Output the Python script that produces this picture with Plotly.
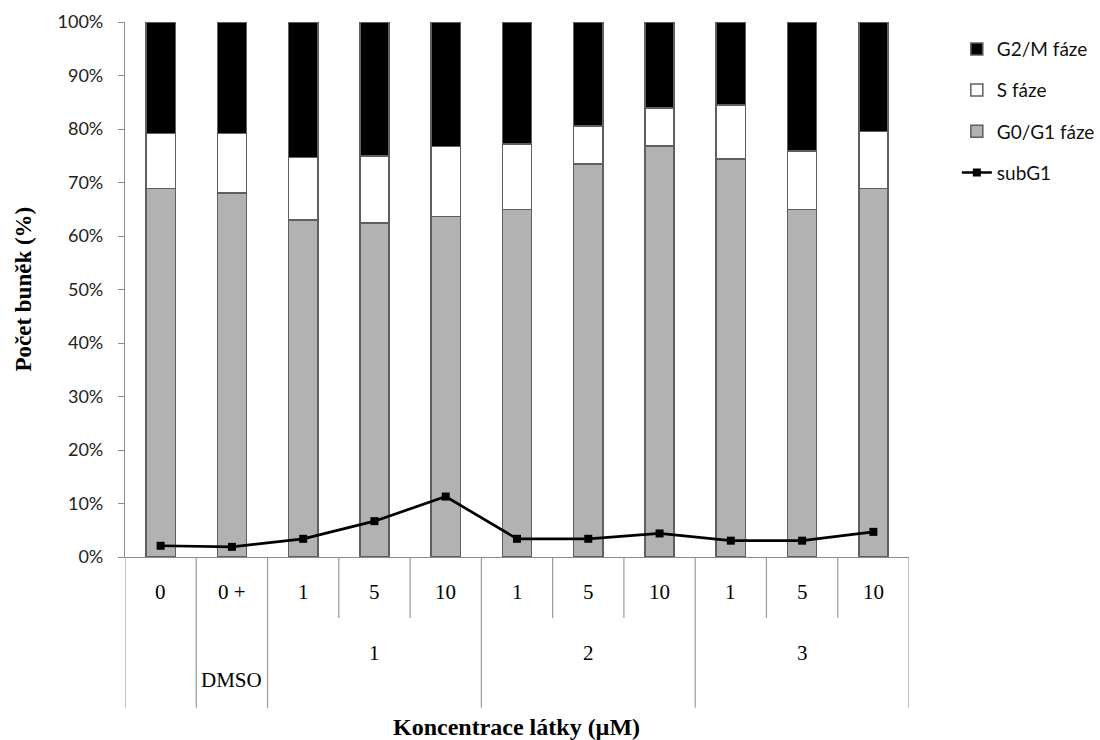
import numpy as np
import plotly.graph_objects as go

# ---- data ----
concentrations = ["0", "0 +", "1", "5", "10", "1", "5", "10", "1", "5", "10"]
groups = ["", "DMSO", "1", "1", "1", "2", "2", "2", "3", "3", "3"]
g0g1 = [68.9, 68.0, 63.0, 62.4, 63.6, 65.0, 73.5, 76.8, 74.4, 65.0, 68.9]
s_phase = [10.3, 11.2, 11.7, 12.6, 13.1, 12.2, 7.1, 7.1, 10.1, 10.9, 10.6]
g2m = [20.8, 20.8, 25.3, 25.0, 23.3, 22.8, 19.4, 16.1, 15.5, 24.1, 20.5]
subg1 = [2.1, 1.9, 3.4, 6.7, 11.3, 3.4, 3.4, 4.4, 3.05, 3.05, 4.7]
y_ticks = [0, 10, 20, 30, 40, 50, 60, 70, 80, 90, 100]

x = np.arange(len(concentrations))

edge = dict(color="#5f5f5f", width=1.5)
fig = go.Figure()
fig.add_trace(go.Bar(x=x, y=g0g1, name="G0/G1 fáze", marker=dict(color="#b2b2b2", line=edge),
                     width=0.41, legendrank=3, legendgroup="c"))
fig.add_trace(go.Bar(x=x, y=s_phase, name="S fáze", marker=dict(color="#ffffff", line=edge),
                     width=0.41, legendrank=2, legendgroup="b"))
fig.add_trace(go.Bar(x=x, y=g2m, name="G2/M fáze", marker=dict(color="#000000", line=edge),
                     width=0.41, legendrank=1, legendgroup="a"))
fig.add_trace(go.Scatter(x=x, y=subg1, name="subG1", mode="lines+markers",
                         line=dict(color="#000000", width=2.7),
                         marker=dict(symbol="square", size=8, color="#000000"),
                         legendrank=4, legendgroup="d"))

# ---- category table below the axis ----
grid_col = "#9a9a9a"
inner_bottom = -0.114
outer_bottom = -0.282
shapes = []
n = len(concentrations)
for b in range(-1, n):
    pos = b + 0.5
    is_group_edge = b == -1 or b == n - 1 or groups[b] != groups[b + 1]
    shapes.append(dict(type="line", xref="x", yref="paper", x0=pos, x1=pos,
                       y0=0, y1=outer_bottom if is_group_edge else inner_bottom,
                       line=dict(color=grid_col, width=1.2)))

serif = "Liberation Serif, Times New Roman, serif"
lab_font = dict(family=serif, size=21, color="#000")
annotations = []
for i, c in enumerate(concentrations):
    annotations.append(dict(x=i, y=-0.065, xref="x", yref="paper", text=c, showarrow=False,
                            xanchor="center", yanchor="middle", font=lab_font))
seen = []
for g in groups:
    if g and g not in seen:
        seen.append(g)
for g in seen:
    idx = [i for i, gg in enumerate(groups) if gg == g]
    yy = -0.230 if g == "DMSO" else -0.179
    annotations.append(dict(x=float(np.mean(idx)), y=yy, xref="x", yref="paper", text=g,
                            showarrow=False, xanchor="center", yanchor="middle", font=lab_font))

annotations.append(dict(x=0.499, y=-0.318, xref="paper", yref="paper", text="<b>Koncentrace látky (µM)</b>",
                        showarrow=False, xanchor="center", yanchor="middle",
                        font=dict(family=serif, size=24, color="#000")))
annotations.append(dict(x=-0.130, y=0.5, xref="paper", yref="paper", text="<b>Počet buněk (%)</b>",
                        showarrow=False, textangle=-90, xanchor="center", yanchor="middle",
                        font=dict(family=serif, size=23, color="#000")))

fig.update_layout(
    width=1100, height=740,
    margin=dict(l=125, r=191, t=22, b=183, autoexpand=False),
    barmode="stack",
    plot_bgcolor="white", paper_bgcolor="white",
    showlegend=True,
    legend=dict(x=1.061, y=0.985, xanchor="left", yanchor="top", tracegroupgap=13.5,
                font=dict(family="Lato, Carlito, sans-serif", size=19, color="#111"),
                bgcolor="rgba(0,0,0,0)"),
    shapes=shapes,
    annotations=annotations,
    font=dict(family="Lato, sans-serif"),
)
fig.update_xaxes(range=[-0.5, n - 0.5], showticklabels=False, ticks="", showgrid=False,
                 showline=True, linecolor="#8c8c8c", linewidth=1.2, zeroline=False)
fig.update_yaxes(range=[0, 100], tickvals=y_ticks, ticktext=[f"{v}%" for v in y_ticks],
                 showgrid=False, zeroline=False, showline=True, linecolor="#8c8c8c", linewidth=1.2,
                 ticks="outside", ticklen=6, tickcolor="#8c8c8c", tickwidth=1.2,
                 ticklabelstandoff=11,
                 tickfont=dict(family="Lato, Carlito, sans-serif", size=18, color="#222"))

fig.write_html("out.html")
